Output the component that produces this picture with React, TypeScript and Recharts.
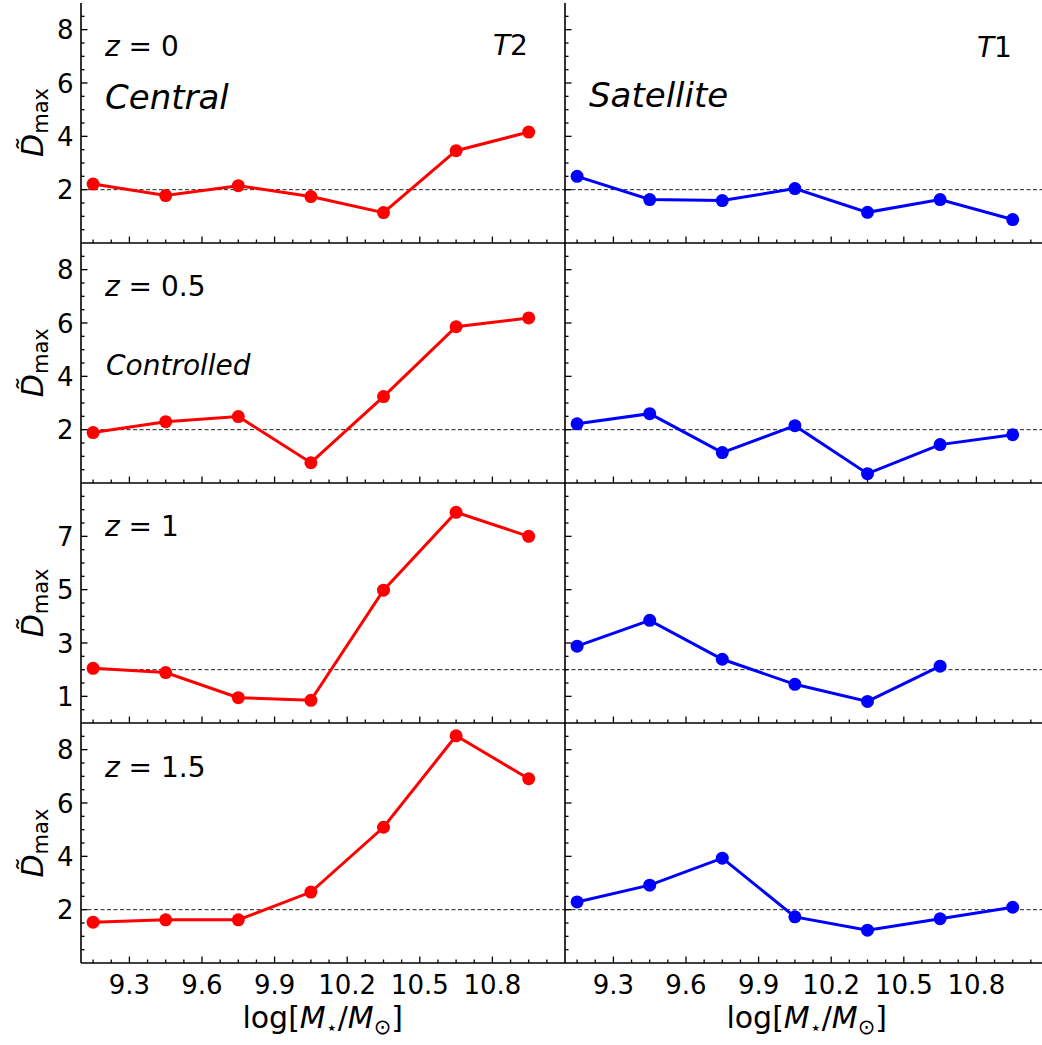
import { LineChart, Line, XAxis, YAxis, ReferenceLine } from "recharts"

// stellar mass bins (x)
const X_VALUES = [9.15, 9.45, 9.75, 10.05, 10.35, 10.65, 10.95]

// D_max values, central (red) per redshift
const CENTRAL_Z0 = [2.21, 1.78, 2.15, 1.74, 1.14, 3.46, 4.16]
const CENTRAL_Z05 = [1.89, 2.3, 2.49, 0.76, 3.24, 5.86, 6.19]
const CENTRAL_Z1 = [2.05, 1.89, 0.95, 0.85, 4.98, 7.9, 7.0]
const CENTRAL_Z15 = [1.53, 1.62, 1.62, 2.66, 5.09, 8.52, 6.91]

// D_max values, satellite (blue) per redshift
const SATELLITE_Z0 = [2.5, 1.63, 1.59, 2.04, 1.15, 1.63, 0.88]
const SATELLITE_Z05 = [2.22, 2.6, 1.14, 2.15, 0.35, 1.44, 1.81]
const SATELLITE_Z1 = [2.88, 3.85, 2.39, 1.45, 0.81, 2.13]
const SATELLITE_Z15 = [2.29, 2.92, 3.93, 1.73, 1.23, 1.66, 2.09]

const REDSHIFTS = ["0", "0.5", "1", "1.5"]

// ticks
const Y_LABELS_EVEN = [2, 4, 6, 8]
const Y_LABELS_ODD = [1, 3, 5, 7]
const Y_TICKS = [0.5, 1, 1.5, 2, 2.5, 3, 3.5, 4, 4.5, 5, 5.5, 6, 6.5, 7, 7.5, 8, 8.5]
const X_LABELS = [9.3, 9.6, 9.9, 10.2, 10.5, 10.8]
const X_TICKS = [
  9.15, 9.225, 9.3, 9.375, 9.45, 9.525, 9.6, 9.675, 9.75, 9.825, 9.9, 9.975,
  10.05, 10.125, 10.2, 10.275, 10.35, 10.425, 10.5, 10.575, 10.65, 10.725,
  10.8, 10.875, 10.95, 11.025,
]

// panel geometry (chart-local)
const CHART_W = 570
const CHART_H = 325
const PL = 80
const PR = 564
const PT = 5
const PB = 245
const COL_LEFT = [80.7, 564.7]
const ROW_TOP = [2.5, 242.7, 482.9, 723.1]

const FONT = "DejaVu Sans, sans-serif"

const isIn = (v: number, list: number[]) => list.some((m) => Math.abs(m - v) < 1e-6)

const makeData = (vals: number[]) => vals.map((y, i) => ({ x: X_VALUES[i], y }))

const PANELS = [
  { row: 0, col: 0, vals: CENTRAL_Z0, color: "#ff0000" },
  { row: 0, col: 1, vals: SATELLITE_Z0, color: "#0000ff" },
  { row: 1, col: 0, vals: CENTRAL_Z05, color: "#ff0000" },
  { row: 1, col: 1, vals: SATELLITE_Z05, color: "#0000ff" },
  { row: 2, col: 0, vals: CENTRAL_Z1, color: "#ff0000" },
  { row: 2, col: 1, vals: SATELLITE_Z1, color: "#0000ff" },
  { row: 3, col: 0, vals: CENTRAL_Z15, color: "#ff0000" },
  { row: 3, col: 1, vals: SATELLITE_Z15, color: "#0000ff" },
]

function Panel({ row, col, vals, color }: any) {
  const yLabels = row === 2 ? Y_LABELS_ODD : Y_LABELS_EVEN
  const showY = col === 0
  const showX = row === 3

  const leftTick = (p: any) => {
    const v = p.payload.value
    const major = isIn(v, yLabels)
    return (
      <g>
        <line x1={PL} x2={PL + (major ? 6.5 : 3.5)} y1={p.y} y2={p.y} stroke="#000" strokeWidth={1.3} />
        {major && showY && (
          <text x={PL - 7.5} y={p.y + 9.5} textAnchor="end" fontSize={26} fontFamily={FONT} fill="#000">
            {v}
          </text>
        )}
      </g>
    )
  }

  const rightTick = (p: any) => {
    const major = isIn(p.payload.value, yLabels)
    return <line x1={PR} x2={PR - (major ? 6.5 : 3.5)} y1={p.y} y2={p.y} stroke="#000" strokeWidth={1.3} />
  }

  const bottomTick = (p: any) => {
    const v = p.payload.value
    const major = isIn(v, X_LABELS)
    return (
      <g>
        <line x1={p.x} x2={p.x} y1={PB} y2={PB - (major ? 6.5 : 3.5)} stroke="#000" strokeWidth={1.3} />
        {major && showX && (
          <text x={p.x} y={PB + 30.5} textAnchor="middle" fontSize={26} fontFamily={FONT} fill="#000">
            {String(v)}
          </text>
        )}
      </g>
    )
  }

  const topTick = (p: any) => {
    const major = isIn(p.payload.value, X_LABELS)
    return <line x1={p.x} x2={p.x} y1={PT} y2={PT + (major ? 6.5 : 3.5)} stroke="#000" strokeWidth={1.3} />
  }

  const axisLine = { stroke: "#000", strokeWidth: 1.6 }

  return (
    <div
      style={{
        position: "absolute",
        left: COL_LEFT[col] - PL,
        top: ROW_TOP[row] - PT,
        width: CHART_W,
        height: CHART_H,
      }}
    >
      <LineChart width={CHART_W} height={CHART_H} data={makeData(vals)} margin={{ top: PT, right: CHART_W - PR, left: 0, bottom: 0 }}>
        <XAxis
          xAxisId="b"
          dataKey="x"
          type="number"
          domain={[9.1, 11.1]}
          allowDataOverflow
          ticks={X_TICKS}
          interval={0}
          tick={bottomTick}
          tickLine={false}
          axisLine={axisLine}
          height={CHART_H - PB}
        />
        <XAxis
          xAxisId="t"
          orientation="top"
          dataKey="x"
          type="number"
          domain={[9.1, 11.1]}
          allowDataOverflow
          ticks={X_TICKS}
          interval={0}
          tick={topTick}
          tickLine={false}
          axisLine={axisLine}
          height={0}
        />
        <YAxis
          yAxisId="l"
          type="number"
          domain={[0, 9]}
          allowDataOverflow
          ticks={Y_TICKS}
          interval={0}
          tick={leftTick}
          tickLine={false}
          axisLine={axisLine}
          width={PL}
        />
        <YAxis
          yAxisId="r"
          orientation="right"
          type="number"
          domain={[0, 9]}
          allowDataOverflow
          ticks={Y_TICKS}
          interval={0}
          tick={rightTick}
          tickLine={false}
          axisLine={axisLine}
          width={0}
        />
        <ReferenceLine xAxisId="b" yAxisId="l" y={2} stroke="#222" strokeWidth={1} strokeDasharray="4 2.5" />
        <Line
          xAxisId="b"
          yAxisId="l"
          dataKey="y"
          stroke={color}
          strokeWidth={3}
          dot={{ r: 6.5, fill: color, stroke: "none" }}
          isAnimationActive={false}
        />
      </LineChart>
    </div>
  )
}

function Annotations() {
  const dy = (r: number) => ROW_TOP[r] - ROW_TOP[0]
  const rowMid = (r: number) => ROW_TOP[r] + 120
  const colMid = (c: number) => COL_LEFT[c] + 242

  return (
    <svg
      width={1042}
      height={1045}
      style={{ position: "absolute", left: 0, top: 0, pointerEvents: "none" }}
      fontFamily={FONT}
      fill="#000"
    >
      {/* redshift labels */}
      {REDSHIFTS.map((z, r) => (
        <text key={z} x={105} y={56 + dy(r)} fontSize={28}>
          <tspan fontStyle="italic">z</tspan>
          <tspan> = {z}</tspan>
        </text>
      ))}

      <text x={105} y={109} fontSize={34} fontStyle="italic">Central</text>
      <text x={589} y={107} fontSize={34} fontStyle="italic">Satellite</text>
      <text x={106} y={375} fontSize={28} fontStyle="italic">Controlled</text>

      <text x={493} y={54.5} fontSize={28}>
        <tspan fontStyle="italic">T</tspan>
        <tspan>2</tspan>
      </text>
      <text x={977} y={56.5} fontSize={28}>
        <tspan fontStyle="italic">T</tspan>
        <tspan>1</tspan>
      </text>

      {/* y labels */}
      {ROW_TOP.map((_, r) => (
        <text
          key={r}
          x={43}
          y={rowMid(r)}
          fontSize={30}
          textAnchor="middle"
          transform={`rotate(-90, 43, ${rowMid(r)})`}
        >
          <tspan fontStyle="italic">{"D\u0303"}</tspan>
          <tspan fontSize={21} dy={5}>max</tspan>
        </text>
      ))}

      {/* x labels */}
      {[0, 1].map((c) => (
        <text key={c} x={colMid(c)} y={1028} fontSize={30} textAnchor="middle">
          <tspan>log[</tspan>
          <tspan fontStyle="italic">M</tspan>
          <tspan fontSize={19} dy={6}>{"\u22c6"}</tspan>
          <tspan dy={-6}>/</tspan>
          <tspan fontStyle="italic">M</tspan>
          <tspan fontSize={21} dy={6}>{"\u2299"}</tspan>
          <tspan dy={-6}>]</tspan>
        </text>
      ))}
    </svg>
  )
}

export default function App() {
  return (
    <div
      style={{
        position: "fixed",
        left: 0,
        top: 0,
        width: 1042,
        height: 1045,
        overflow: "hidden",
        background: "#fff",
        fontFamily: FONT,
      }}
    >
      {PANELS.map((p) => (
        <Panel key={`${p.row}-${p.col}`} {...p} />
      ))}
      <Annotations />
    </div>
  )
}
